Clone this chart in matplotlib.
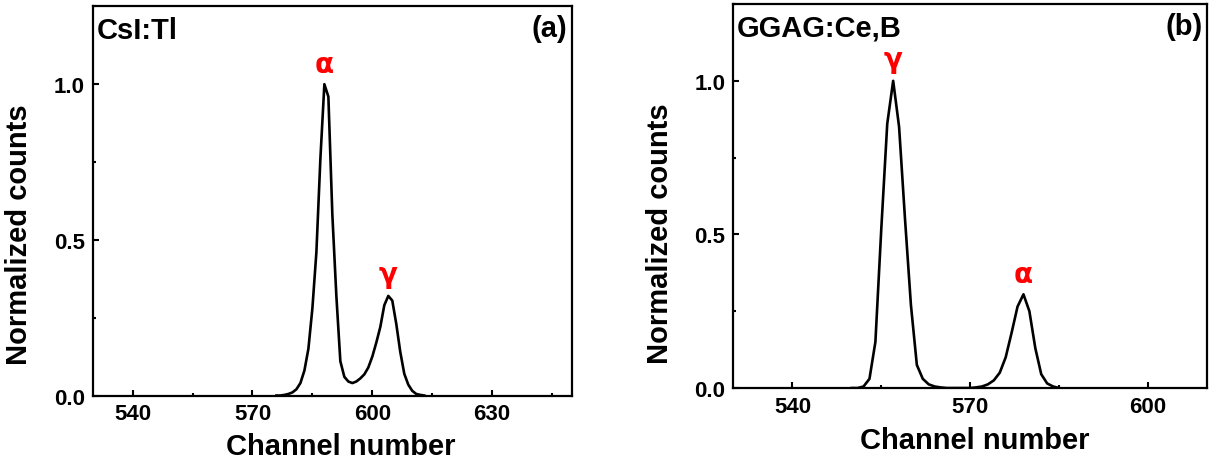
import matplotlib
matplotlib.use("Agg")
import matplotlib.pyplot as plt
from matplotlib.ticker import MultipleLocator, FormatStrFormatter

plt.rcParams['font.family'] = ['Liberation Sans', 'DejaVu Sans']
plt.rcParams['font.weight'] = 'bold'

# (a) CsI:Tl spectrum
ch_a = [576, 577, 578, 579, 580, 581, 582, 583, 584, 585, 586, 587, 588, 589,
        590, 591, 592, 593, 594, 595, 596, 597, 598, 599, 600, 601, 602, 603,
        604, 605, 606, 607, 608, 609, 610, 611, 612, 613]
counts_a = [0.0, 0.0, 0.002, 0.005, 0.01, 0.02, 0.04, 0.08, 0.15, 0.28, 0.46, 0.76,
            1.0, 0.96, 0.58, 0.32, 0.11, 0.06, 0.045, 0.04, 0.045, 0.055, 0.068,
            0.09, 0.125, 0.17, 0.22, 0.29, 0.32, 0.305, 0.23, 0.14, 0.07, 0.035,
            0.015, 0.005, 0.002, 0.0]

# (b) GGAG:Ce,B spectrum
ch_b = [550, 551, 552, 553, 554, 555, 556, 557, 558, 559, 560, 561, 562, 563,
        564, 565, 566, 567, 568, 569, 570, 571, 572, 573, 574, 575, 576, 577,
        578, 579, 580, 581, 582, 583, 584, 585]
counts_b = [0.0, 0.0, 0.005, 0.03, 0.15, 0.52, 0.86, 1.0, 0.85, 0.55, 0.27, 0.075,
            0.03, 0.012, 0.005, 0.002, 0.0, 0.0, 0.0, 0.0, 0.0, 0.002, 0.005,
            0.012, 0.025, 0.05, 0.10, 0.18, 0.265, 0.305, 0.25, 0.13, 0.045,
            0.015, 0.005, 0.0]

# peak markers: (symbol, channel, baseline height)
peaks_a = [("α", 588, 1.04), ("γ", 604, 0.365)]
peaks_b = [("γ", 557, 1.045), ("α", 579, 0.346)]

fig = plt.figure(figsize=(12.13, 4.6), dpi=100)
ax1 = fig.add_axes([0.0764, 0.138, 0.3952, 0.846])
ax2 = fig.add_axes([0.6045, 0.1543, 0.3906, 0.8348])

panels = [
    (ax1, ch_a, counts_a, peaks_a, "CsI:Tl", "(a)", (530, 650), 0.517, -0.094, 0.415),
    (ax2, ch_b, counts_b, peaks_b, "GGAG:Ce,B", "(b)", (530, 610), 0.51, -0.1, 0.405),
]

for ax, x, y, peaks, name, tag, xlim, xlab_x, xlab_y, ylab_y in panels:
    ax.plot(x, y, color='black', lw=1.9)
    ax.set_xlim(*xlim)
    ax.set_ylim(0, 1.25)
    ax.xaxis.set_major_locator(MultipleLocator(30))
    ax.xaxis.set_minor_locator(MultipleLocator(15))
    ax.yaxis.set_major_locator(MultipleLocator(0.5))
    ax.yaxis.set_minor_locator(MultipleLocator(0.25))
    ax.yaxis.set_major_formatter(FormatStrFormatter('%.1f'))
    ax.tick_params(which='both', direction='in', top=False, right=False,
                   labelsize=16, width=1.5)
    ax.tick_params(which='major', length=4.5, pad=5.5)
    ax.tick_params(which='minor', length=2.5)
    for lab in ax.get_xticklabels() + ax.get_yticklabels():
        lab.set_fontweight('bold')
    for s in ax.spines.values():
        s.set_linewidth(1.6)

    ax.set_xlabel("Channel number", fontsize=21, fontweight='bold')
    ax.set_ylabel("Normalized counts", fontsize=21, fontweight='bold')
    ax.xaxis.set_label_coords(xlab_x, xlab_y)
    ax.yaxis.set_label_coords(-0.125, ylab_y)

    ax.text(0.008, 0.975, name, transform=ax.transAxes, ha='left', va='top',
            fontsize=21, fontweight='bold')
    ax.text(0.99, 0.98, tag, transform=ax.transAxes, ha='right', va='top',
            fontsize=21, fontweight='bold')

    for sym, px, py in peaks:
        ax.text(px, py, sym, color='red', fontsize=20, fontweight='bold',
                family='DejaVu Sans', ha='center', va='baseline')

fig.savefig("out.png", dpi=100)
